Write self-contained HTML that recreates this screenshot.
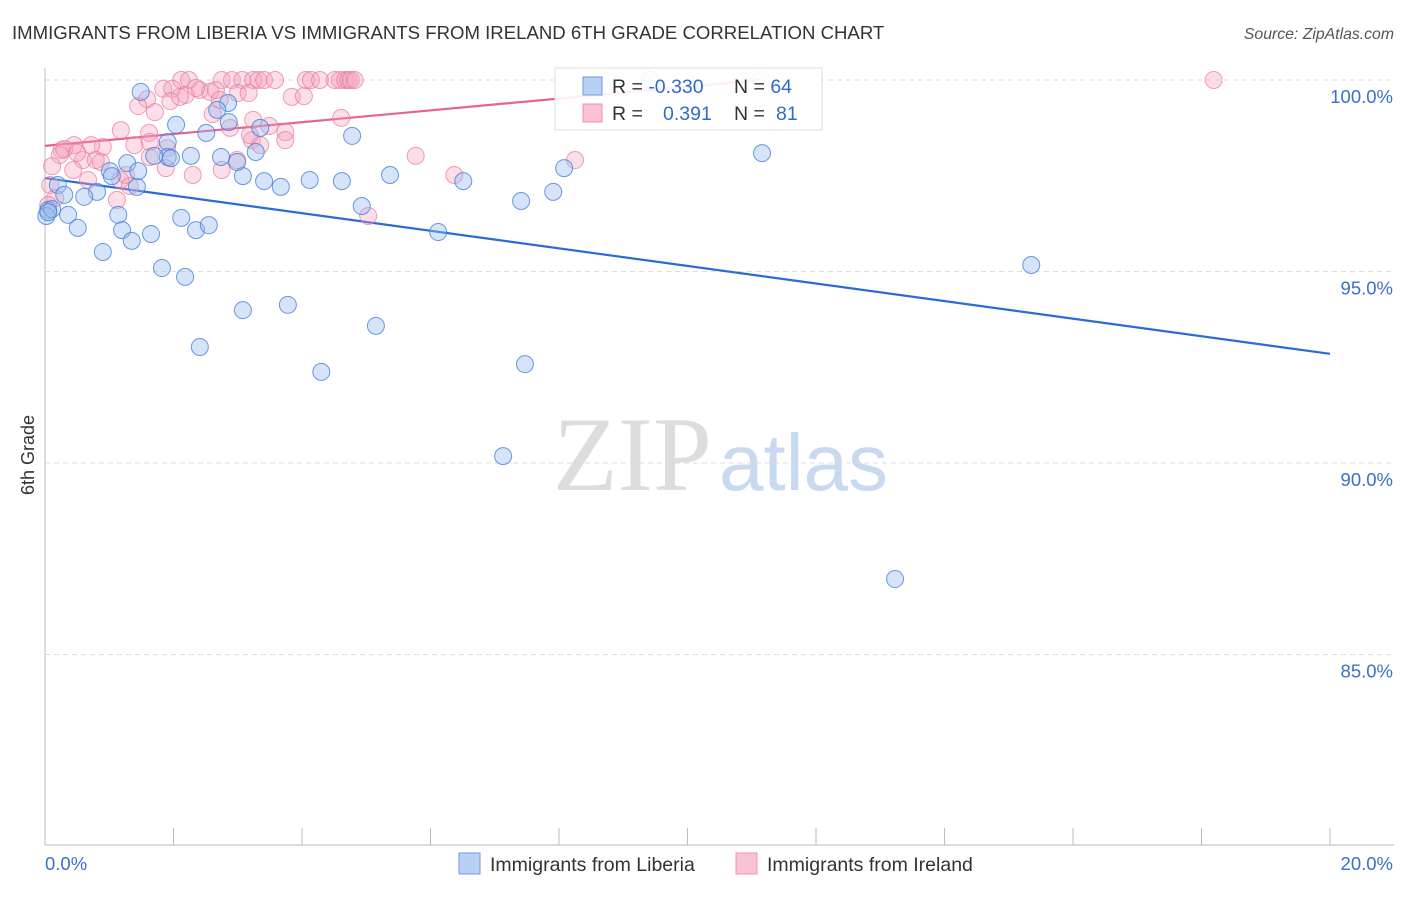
<!DOCTYPE html>
<html><head><meta charset="utf-8"><style>
body{margin:0;background:#fff;font-family:"Liberation Sans",sans-serif}
</style></head><body>
<svg id="c" width="1406" height="892" xmlns="http://www.w3.org/2000/svg" style="font-family:'Liberation Sans',sans-serif">
<text x="12" y="39" font-size="18.6" fill="#333">IMMIGRANTS FROM LIBERIA VS IMMIGRANTS FROM IRELAND 6TH GRADE CORRELATION CHART</text>
<text x="1394" y="39" font-size="15.8" fill="#555" font-style="italic" text-anchor="end">Source: ZipAtlas.com</text>
<text x="553" y="490" font-size="106" fill="#ddd" font-family="Liberation Serif">ZIP</text>
<text x="719" y="490" font-size="80" fill="#c9d9f0">atlas</text>
<g id="grid"></g><g id="axes"></g><g id="lines"></g><g id="pts"></g>
<text transform="translate(34,455) rotate(-90)" font-size="18" fill="#333" text-anchor="middle">6th Grade</text>
<g>
<rect x="555" y="68" width="267" height="62" fill="#fff" fill-opacity="0.9" stroke="#ddd"/>
<rect x="583" y="77" width="19" height="18" fill="#b8d0f4" stroke="#6e9be0"/>
<rect x="583" y="104" width="19" height="18" fill="#f9c3d3" stroke="#ec93ad"/>
<text x="612" y="93" font-size="19.5" fill="#333">R = <tspan fill="#2f6ad0">-0.330</tspan><tspan x="734">N = </tspan><tspan fill="#2f6ad0">64</tspan></text>
<text x="612" y="120" font-size="19.5" fill="#333">R = <tspan x="663" fill="#2f6ad0">0.391</tspan><tspan x="734">N = </tspan><tspan x="776" fill="#2f6ad0">81</tspan></text>
</g>
<g><rect x="459" y="853" width="21" height="21" fill="#b8d0f4" stroke="#6e9be0"/><text x="490" y="871" font-size="19.5" fill="#333">Immigrants from Liberia</text></g>
<g><rect x="736" y="853" width="21" height="21" fill="#f9c3d3" stroke="#ec93ad"/><text x="767" y="871" font-size="19.5" fill="#333">Immigrants from Ireland</text></g>
</svg>
<script>
const yTicks=[100,95,90,85];
const yTickLabels=["100.0%","95.0%","90.0%","85.0%"];
const xTickLabels=["0.0%","20.0%"];
const liberiaX=[1.49,2.85,2.68,2.04,2.51,4.78,3.35,2.86,1.91,1.91,2.27,1.28,1.01,1.04,1.43,0.20,0.81,0.61,0.05,0.02,0.36,0.51,1.14,1.20,1.35,1.65,2.12,2.35,2.55,0.90,1.82,2.18,3.08,3.78,2.41,4.30,5.15,7.13,7.47,13.23,15.35,11.16,8.08,7.91,7.41,6.51,6.12,5.37,4.93,4.62,4.12,3.67,3.41,3.08,2.99,2.74,3.28,1.45,1.96,1.70,9.42,0.11,0.05,0.30];
const liberiaY=[99.69,99.40,99.22,98.83,98.62,98.54,98.75,98.90,98.38,97.99,98.02,97.83,97.62,97.49,97.21,97.26,97.08,96.95,96.61,96.45,96.48,96.14,96.48,96.08,95.80,95.98,96.40,96.08,96.21,95.51,95.09,94.86,93.99,94.13,93.03,92.38,93.58,90.18,92.58,86.97,95.17,98.09,97.70,97.08,96.84,97.36,96.03,97.52,96.71,97.36,97.39,97.21,97.36,97.49,97.86,97.99,98.12,97.62,97.96,98.02,100.0,96.63,96.55,97.0];
const irelandX=[2.12,2.24,2.75,2.91,3.07,3.24,3.32,3.41,3.58,4.06,4.14,4.28,4.51,4.59,4.67,4.72,4.76,4.82,11.13,18.19,1.84,1.98,2.19,2.41,2.57,2.66,3.00,3.17,3.84,4.03,1.59,1.45,1.95,1.71,2.61,2.10,2.35,2.88,3.49,3.74,4.61,3.74,3.22,3.19,1.18,1.62,1.90,1.63,1.39,0.90,0.72,0.45,0.26,0.23,0.59,0.44,0.11,0.08,0.16,0.05,0.79,0.87,0.67,1.17,1.26,1.12,1.32,1.88,2.30,2.75,2.99,3.35,5.77,6.37,8.25,5.03,3.24,2.72,1.63,0.30,0.50];
const irelandY=[100,100,100,100,100,100,100,100,100,100,100,100,100,100,100,100,100,100,100,100,99.77,99.77,99.61,99.74,99.69,99.74,99.66,99.66,99.56,99.58,99.50,99.32,99.45,99.16,99.11,99.56,99.79,98.75,98.80,98.64,99.01,98.43,98.43,98.56,98.69,98.62,98.22,98.38,98.30,98.25,98.30,98.30,98.17,98.04,97.91,97.65,97.75,97.26,96.92,96.74,97.91,97.86,97.39,97.39,97.52,96.87,97.23,97.70,97.52,97.65,97.91,98.30,98.02,97.52,97.91,96.45,98.96,99.48,97.99,98.20,98.10];
const liberiaTrend=[97.44,92.85]; // y at x=0 and x=20
const irelandTrend=[98.28,100.0]; // y at x=0 and x=11.13
const irelandTrendEnd=11.13;
const NS="http://www.w3.org/2000/svg";
const X=v=>45+v/20*1285, Y=v=>80+(100-v)*38.3;
function mk(t,a,p){const e=document.createElementNS(NS,t);for(const k in a)e.setAttribute(k,a[k]);p.appendChild(e);return e;}
const grid=document.getElementById('grid'),axes=document.getElementById('axes'),pts=document.getElementById('pts'),lines=document.getElementById('lines');
yTicks.forEach((v,i)=>{
 const l=mk('line',{x1:45,x2:1394,y1:Y(v),y2:Y(v),stroke:'#ddd','stroke-dasharray':'5,4'},grid);
 
 
 const t=mk('text',{x:1393,y:Y(v)+23,'font-size':18.5,fill:'#3a6fd0','text-anchor':'end'},axes);
 t.textContent=yTickLabels[i];
 
 
});
mk('line',{x1:45,x2:45,y1:68,y2:845,stroke:'#bbb'},axes);
mk('line',{x1:45,x2:1394,y1:845,y2:845,stroke:'#bbb'},axes);
for(let i=0;i<=10;i++){const tk=mk('line',{x1:X(i*2),x2:X(i*2),y1:828,y2:845,stroke:'#bbb'},axes);
 
 }
const xl0=mk('text',{x:45,y:870,'font-size':18.5,fill:'#3a6fd0'},axes);xl0.textContent=xTickLabels[0];


const xl1=mk('text',{x:1393,y:870,'font-size':18.5,fill:'#3a6fd0','text-anchor':'end'},axes);xl1.textContent=xTickLabels[1];


irelandX.forEach((v,i)=>{const c=mk('circle',{cx:X(v),cy:Y(irelandY[i]),r:8.5,fill:'rgba(244,160,188,0.35)',stroke:'rgba(232,120,155,0.7)','stroke-width':1},pts);
 
 });
liberiaX.forEach((v,i)=>{const c=mk('circle',{cx:X(v),cy:Y(liberiaY[i]),r:8.5,fill:'rgba(150,188,238,0.4)',stroke:'rgba(60,120,215,0.75)','stroke-width':1},pts);
 
 });
const lb=mk('line',{x1:X(0),y1:Y(liberiaTrend[0]),x2:X(20),y2:Y(liberiaTrend[1]),stroke:'#2a6bd6','stroke-width':2.2},lines);


const li=mk('line',{x1:X(0),y1:Y(irelandTrend[0]),x2:X(irelandTrendEnd),y2:Y(irelandTrend[1]),stroke:'#e8628e','stroke-width':2.2},lines);


</script>
</body></html>
